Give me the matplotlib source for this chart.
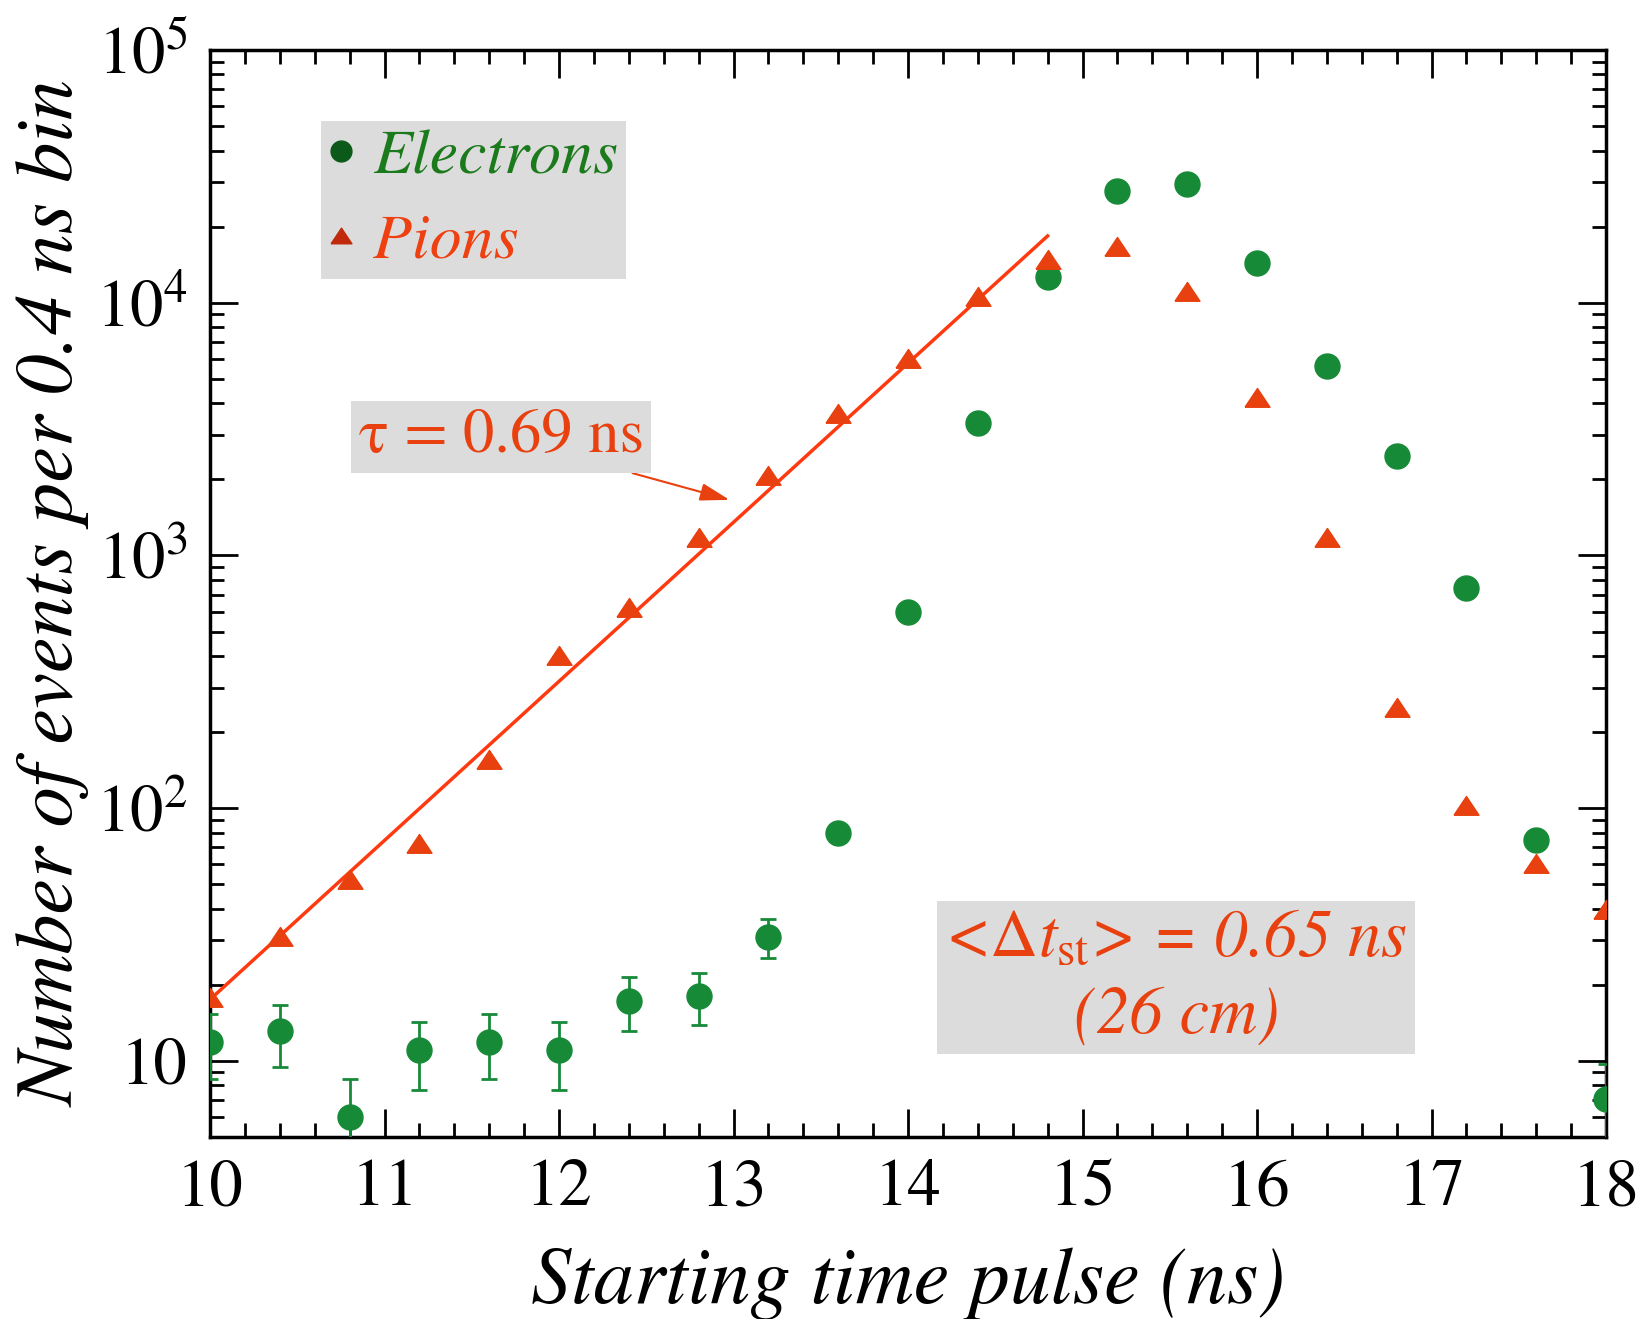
import numpy as np
import matplotlib.pyplot as plt
from matplotlib.lines import Line2D
from matplotlib.ticker import FixedLocator, MultipleLocator, LogLocator, NullFormatter

plt.rcParams['font.family'] = 'STIXGeneral'
plt.rcParams['mathtext.fontset'] = 'stix'

# start time bins (ns)
t = [10.0, 10.4, 10.8, 11.2, 11.6, 12.0, 12.4, 12.8, 13.2, 13.6, 14.0,
     14.4, 14.8, 15.2, 15.6, 16.0, 16.4, 16.8, 17.2, 17.6, 18.0]
# counts per 0.4 ns bin
electrons = [11.9, 13.1, 6.0, 11.0, 11.9, 11.0, 17.3, 18.1, 31, 80, 596,
             3340, 12600, 27600, 29500, 14300, 5600, 2480, 743, 74.6, 7.1]
pions = [17.7, 31, 52, 72, 155, 400, 620, 1175, 2070, 3640, 5990,
         10500, 14800, 16600, 11000, 4210, 1175, 250, 102, 60, 39.7]

# exponential fit on the rising edge
tau = 0.69
fit_amp = 17.5
fit_t = [10.0, 14.8]

green = '#178a38'
red = '#e8400e'
# slightly flattened triangle like the original
tri = [(-1, -0.7), (1, -0.7), (0, 0.8), (-1, -0.7)]

fig = plt.figure(figsize=(16.46, 13.19), dpi=100)
ax = fig.add_axes([210/1646, 1-1137/1319, (1606-210)/1646, (1137-50)/1319])

t = np.array(t)
electrons = np.array(electrons)
pions = np.array(pions)
# statistical errors only show up for the low-count bins
low = electrons < 50
ax.errorbar(t[low], electrons[low], yerr=np.sqrt(electrons[low]), fmt='none',
            ecolor=green, elinewidth=2, capsize=6, capthick=2, zorder=3)
ax.plot(t, electrons, 'o', color=green, ms=18, zorder=3)
ax.plot(t, pions, ls='none', marker=tri, color=red, ms=18, zorder=3)

ft = np.array(fit_t)
ax.plot(ft, fit_amp*np.exp((ft-fit_t[0])/tau), '-', color='#ff3a10', lw=2.5, zorder=2)

ax.set_yscale('log')
ax.set_xlim(10, 18)
ax.set_ylim(5, 1e5)

ax.xaxis.set_major_locator(MultipleLocator(1))
ax.xaxis.set_minor_locator(MultipleLocator(0.2))
ax.yaxis.set_major_locator(FixedLocator([10, 100, 1000, 1e4, 1e5]))
ax.yaxis.set_minor_locator(LogLocator(base=10, subs=np.arange(2, 10)))
ax.yaxis.set_minor_formatter(NullFormatter())
ax.set_yticklabels(['10', '$10^2$', '$10^3$', '$10^4$', '$10^5$'])
ax.tick_params(which='both', direction='in', top=True, right=True, labelsize=48, width=2)
ax.tick_params(which='major', length=20, pad=16)
ax.tick_params(which='minor', length=10)
for s in ax.spines.values():
    s.set_linewidth(2.5)

ax.set_xlabel('Starting time pulse (ns)', fontsize=58, style='italic', labelpad=20)
ax.set_ylabel('Number of events per 0.4 ns bin', fontsize=58, style='italic', labelpad=4)

handles = [Line2D([], [], ls='none', marker='o', color='#0b5a1a', ms=15),
           Line2D([], [], ls='none', marker=tri, color='#c02a0a', ms=15)]
leg = ax.legend(handles, ['Electrons', 'Pions'], loc='upper left',
                bbox_to_anchor=(321/1646, 1-121/1319), bbox_transform=fig.transFigure,
                borderaxespad=0, fancybox=False, framealpha=1, facecolor='#dcdcdc',
                edgecolor='none', prop={'size': 46, 'style': 'italic'},
                handletextpad=0.3, handlelength=0.4, labelspacing=0.42,
                borderpad=0.12)
leg.get_texts()[0].set_color('#1b7a1b')
leg.get_texts()[1].set_color('#ee4010')

ax.annotate('τ = 0.69 ns', xy=(12.977, 1660), xytext=(11.67, 2940),
            fontsize=45, color=red, ha='center', va='center',
            bbox=dict(boxstyle='square,pad=0.12', fc='#dcdcdc', ec='none'),
            arrowprops=dict(arrowstyle='-|>,head_length=0.4,head_width=0.12',
                            color=red, lw=1.5, shrinkA=0, shrinkB=0))

ax.text(15.537, 21.3, '<$\\Delta t_{\\rm st}$> = 0.65 ns\n(26 cm)', fontsize=48,
        color=red, style='italic', ha='center', va='center', linespacing=1.35,
        bbox=dict(boxstyle='square,pad=0.12', fc='#dcdcdc', ec='none'))

fig.savefig('out.png', dpi=100)
